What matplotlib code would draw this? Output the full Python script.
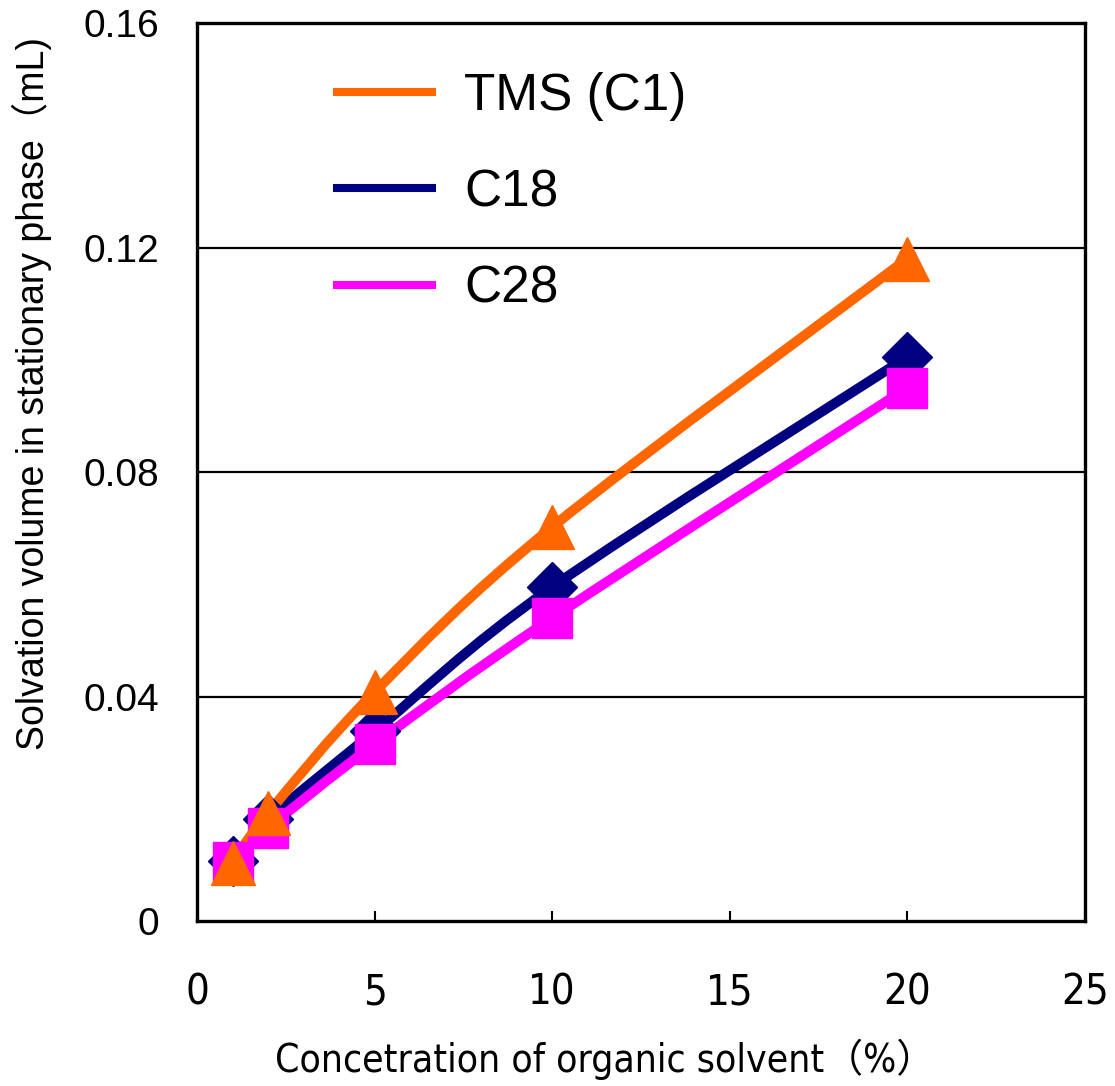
import matplotlib
matplotlib.use("Agg")
import matplotlib.pyplot as plt
from matplotlib.path import Path
from matplotlib.patches import PathPatch
from matplotlib.lines import Line2D

# data
conc = [1, 2, 5, 10, 20]
tms = [0.0103, 0.0192, 0.0408, 0.0702, 0.1180]
c18 = [0.0107, 0.0181, 0.0338, 0.0595, 0.1005]
c28 = [0.0105, 0.0165, 0.0315, 0.0540, 0.0950]

x_ticks = [0, 5, 10, 15, 20, 25]
y_ticks = [0, 0.04, 0.08, 0.12, 0.16]
y_tick_labels = ["0", "0.04", "0.08", "0.12", "0.16"]

ORANGE = "#FF6600"
NAVY = "#000080"
MAGENTA = "#FF00FF"

series = (
    ("C18", c18, NAVY, "D", 25),
    ("C28", c28, MAGENTA, "s", 29),
    ("TMS (C1)", tms, ORANGE, "^", 31),
)

ARIAL = ["Liberation Sans", "DejaVu Sans"]
CJK = ["Liberation Sans", "Noto Sans CJK JP", "DejaVu Sans"]
COND = ["DejaVu Sans", "Noto Sans CJK JP"]


def smooth_path(xs, ys):
    # Excel style smoothed line: cubic bezier through the points (catmull-rom control points)
    pts = list(zip(xs, ys))
    verts = [pts[0]]
    codes = [Path.MOVETO]
    n = len(pts)
    for i in range(n - 1):
        p0 = pts[i - 1] if i > 0 else pts[i]
        p1 = pts[i]
        p2 = pts[i + 1]
        p3 = pts[i + 2] if i + 2 < n else pts[i + 1]
        c1 = (p1[0] + (p2[0] - p0[0]) / 6, p1[1] + (p2[1] - p0[1]) / 6)
        c2 = (p2[0] - (p3[0] - p1[0]) / 6, p2[1] - (p3[1] - p1[1]) / 6)
        verts += [c1, c2, p2]
        codes += [Path.CURVE4] * 3
    return Path(verts, codes)


fig = plt.figure(figsize=(11.15, 10.86), dpi=100)
ax = fig.add_axes([0.1767, 0.1519, 0.7964, 0.8269])

for yv in y_ticks[1:-1]:
    ax.axhline(yv, color="black", lw=1.6, zorder=1)

for name, vals, color, marker, ms in series:
    patch = PathPatch(smooth_path(conc, vals), facecolor="none", edgecolor=color,
                      lw=7.2, capstyle="butt", joinstyle="round", zorder=3)
    ax.add_patch(patch)
    ax.plot(conc, vals, ls="none", marker=marker, ms=ms, color=color,
            mec=color, zorder=4)

ax.set_xlim(0, 25)
ax.set_ylim(0, 0.16)
ax.set_xticks(x_ticks)
ax.set_xticklabels([str(t) for t in x_ticks], family=COND, fontsize=30,
                   fontstretch="condensed")
ax.set_yticks(y_ticks)
ax.set_yticklabels(y_tick_labels, family=ARIAL, fontsize=28)
ax.tick_params(axis="x", direction="in", length=7, width=1.5, pad=36)
ax.tick_params(axis="y", length=0, pad=27)
for sp in ax.spines.values():
    sp.set_linewidth(2.4)

ax.set_xlabel("Concetration of organic solvent（%）", family=COND,
              fontsize=28, fontstretch="condensed")
ax.xaxis.set_label_coords(0.459, -0.131)
ax.set_ylabel("Solvation volume in stationary phase（mL)", family=CJK,
              fontsize=27)
ax.yaxis.set_label_coords(-0.163, 0.587)

handles = [Line2D([], [], color=ORANGE, lw=5.8),
           Line2D([], [], color=NAVY, lw=5.8),
           Line2D([], [], color=MAGENTA, lw=5.8)]
ax.legend(handles, ["TMS (C1)", "C18", "C28"], loc="upper left",
          bbox_to_anchor=(0.106, 0.997), frameon=False, prop={"family": ARIAL, "size": 37},
          handlelength=1.85, handletextpad=0.62, labelspacing=0.92)

fig.savefig("out.png", dpi=100)
